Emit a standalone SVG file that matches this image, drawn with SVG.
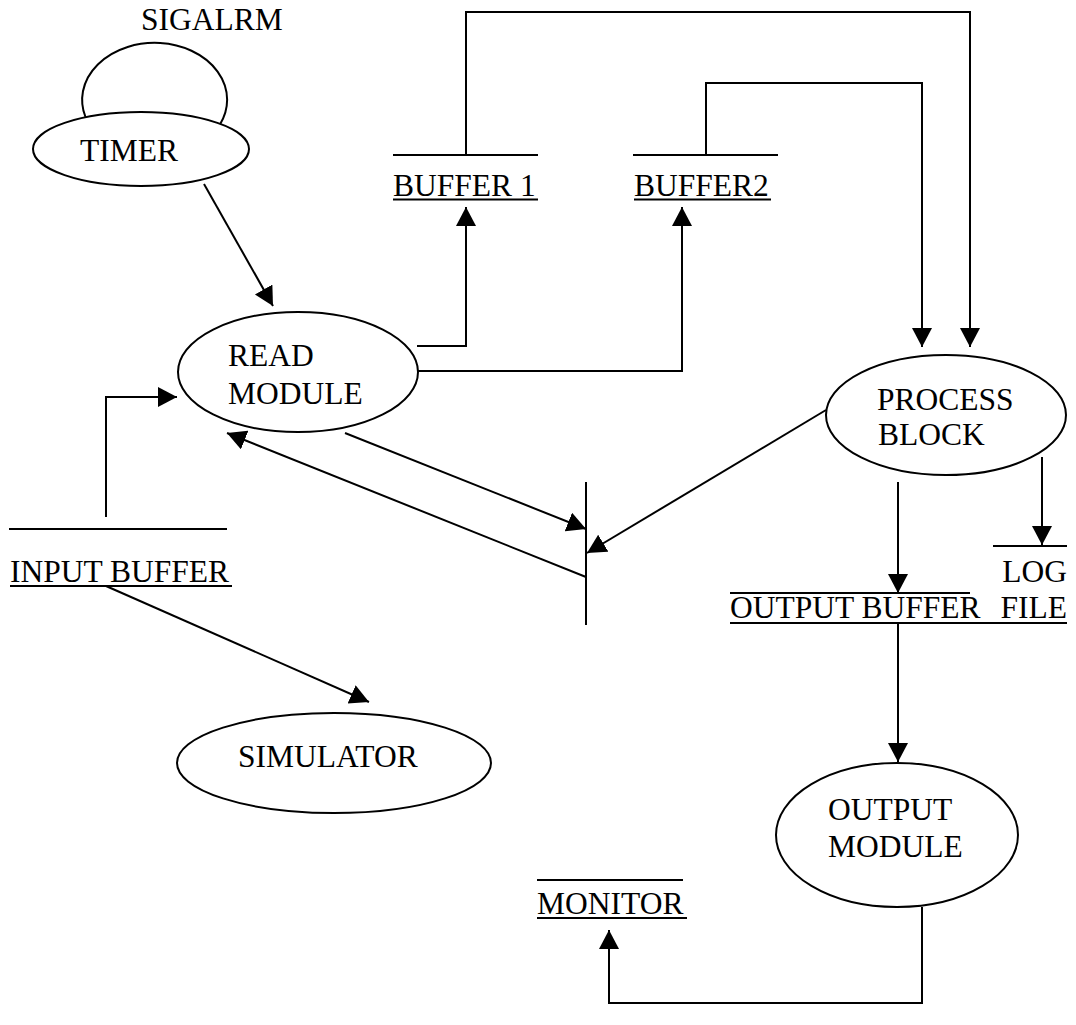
<svg xmlns="http://www.w3.org/2000/svg" width="1076" height="1025" viewBox="0 0 1076 1025">
<style>
text{font-family:"Liberation Serif","Times New Roman",serif;font-size:31.5px;fill:#000}
.sh{fill:#fff;stroke:#000;stroke-width:2}
.ln{stroke:#000;stroke-width:2;fill:none}
.ul{stroke:#000;stroke-width:1.8}
.c{stroke:#000;stroke-width:2;fill:none;marker-end:url(#ah)}
</style>
<defs>
<marker id="ah" markerUnits="userSpaceOnUse" markerWidth="21" markerHeight="21" refX="19" refY="10" orient="auto">
<path d="M0,0 L19,10 L0,20 z" fill="#000"/>
</marker>
</defs>
<rect width="1076" height="1025" fill="#fff"/>
<g id="connectors">
<path class="c" d="M204,184 L273,306"/>
<path class="c" d="M417,346 L466,346 L466,207"/>
<path class="c" d="M418,371 L682,371 L682,207"/>
<path class="c" d="M466,155 L466,12 L970,12 L970,347"/>
<path class="c" d="M706,155 L706,83 L922,83 L922,347"/>
<path class="c" d="M106,517 L106,397 L177,397"/>
<path class="c" d="M106,586 L369,702"/>
<path class="c" d="M345,433 L586,529"/>
<path class="c" d="M586,577 L227,433"/>
<path class="c" d="M826,410 L587,553"/>
<path class="c" d="M898,482 L898,593"/>
<path class="c" d="M898,623 L898,762"/>
<path class="c" d="M1042,457 L1042,545"/>
<path class="c" d="M922,907 L922,1003 L609,1003 L609,930"/>
</g>
<g id="sigalrm">
<path class="ln" d="M85.5,117 A72.5,57 0 1 1 219.7,125"/>
<text x="141" y="30">SIGALRM</text>
</g>
<g id="timer">
<ellipse class="sh" cx="141" cy="149" rx="108" ry="37"/>
<text x="80" y="161">TIMER</text>
</g>
<g id="buffer1">
<line class="ln" x1="393" y1="155" x2="538" y2="155"/>
<text x="393" y="196">BUFFER 1</text>
<line class="ul" x1="393" y1="199.5" x2="538" y2="199.5"/>
</g>
<g id="buffer2">
<line class="ln" x1="633" y1="155" x2="778" y2="155"/>
<text x="634" y="196">BUFFER2</text>
<line class="ul" x1="634" y1="199.5" x2="771" y2="199.5"/>
</g>
<g id="read-module">
<ellipse class="sh" cx="298" cy="372" rx="120" ry="60"/>
<text x="228" y="366">READ</text>
<text x="228" y="404">MODULE</text>
</g>
<g id="process-block">
<ellipse class="sh" cx="946" cy="415" rx="120" ry="60"/>
<text x="877" y="410">PROCESS</text>
<text x="878" y="445">BLOCK</text>
</g>
<g id="input-buffer">
<line class="ln" x1="9" y1="529" x2="227" y2="529"/>
<text x="10" y="582">INPUT BUFFER</text>
<line class="ul" x1="10" y1="586" x2="232" y2="586"/>
</g>
<g id="bar">
<line class="ln" x1="586" y1="482" x2="586" y2="625"/>
</g>
<g id="output-buffer">
<line class="ln" x1="730" y1="593" x2="970" y2="593"/>
<text x="730" y="618">OUTPUT BUFFER</text>
<line class="ul" x1="730" y1="623" x2="1001" y2="623"/>
</g>
<g id="log-file">
<line class="ln" x1="993" y1="546" x2="1067" y2="546"/>
<text x="1067" y="582" text-anchor="end">LOG</text>
<text x="1067" y="618" text-anchor="end">FILE</text>
<line class="ul" x1="993" y1="623" x2="1067" y2="623"/>
</g>
<g id="simulator">
<ellipse class="sh" cx="334" cy="763" rx="157" ry="50"/>
<text x="238" y="767">SIMULATOR</text>
</g>
<g id="output-module">
<ellipse class="sh" cx="897" cy="835" rx="121" ry="72"/>
<text x="828" y="820">OUTPUT</text>
<text x="828" y="857">MODULE</text>
</g>
<g id="monitor">
<line class="ln" x1="537" y1="880" x2="683" y2="880"/>
<text x="537" y="914">MONITOR</text>
<line class="ul" x1="537" y1="918" x2="687" y2="918"/>
</g>
</svg>
